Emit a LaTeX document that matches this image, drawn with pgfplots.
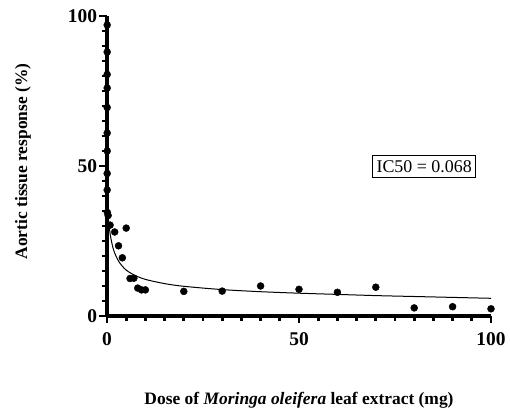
\documentclass[border=0pt]{standalone}
\usepackage{fontspec}
\setmainfont{Liberation Serif}
\usepackage{pgfplots}
\pgfplotsset{compat=1.18}

\pgfplotstableread{
x y
0.05 97
0.05 88
0.05 80.5
0.05 76
0.05 69.5
0.05 61
0.05 55
0.05 47.5
0.05 42
0.1 34.5
0.3 33.5
0.8 30.3
2 28
5 29.3
3 23.4
4 19.4
6 12.5
7 12.6
8 9.3
9 8.7
10 8.7
20 8.2
30 8.3
40 10
50 8.9
60 7.9
70 9.6
80 2.7
90 3.1
100 2.4
}\measured

% fitted curve
\pgfplotstableread{
x y
0.6 29.5
0.8 27.5
1 26
1.5 23
2 21
3 18.3
4 16.6
5 15.3
7 13.7
10 12.2
15 10.8
20 9.9
30 8.8
40 8.1
50 7.6
60 7.2
70 6.8
80 6.5
90 6.2
100 5.9
}\fitted

\begin{document}
\begin{tikzpicture}
\path (-107bp,-95bp) rectangle (403bp,316bp);
\begin{axis}[
  at={(0,0)}, anchor=south west,
  scale only axis,
  width=384bp, height=300bp,
  xmin=0, xmax=100, ymin=0, ymax=100,
  axis lines=left,
  axis line style={-, line width=3.4bp},
  xtick={0,50,100}, ytick={0,50,100},
  minor x tick num=9, minor y tick num=9,
  tick align=outside,
  major tick length=7.5bp, minor tick length=5bp,
  tick style={black, line width=2.8bp},
  /pgf/number format/assume math mode=true,
  ticklabel style={font=\fontsize{19.5}{23}\selectfont\bfseries},
  yticklabel style={xshift=1bp},
  xticklabel style={yshift=-6bp},
  label style={font=\fontsize{17.5}{21}\selectfont\bfseries},
  xlabel={Dose of \textbf{\textit{Moringa oleifera}} leaf extract (mg)},
  ylabel={Aortic tissue response (\%)},
  xlabel style={at={(axis description cs:0.5,0)}, anchor=center, yshift=-84bp},
  ylabel style={at={(axis description cs:0,0.515)}, anchor=center, yshift=84bp},
  clip=false,
]
\addplot[only marks, mark=*, mark size=3.5bp, black] table {\measured};
\addplot[black, line width=1bp, smooth] table {\fitted};
\node[draw, line width=1.3bp, inner xsep=4bp, inner ysep=5bp, font=\fontsize{18}{21}\selectfont]
  at (axis cs:82.6,49.8) {IC50 = 0.068};
\end{axis}
\end{tikzpicture}
\end{document}
